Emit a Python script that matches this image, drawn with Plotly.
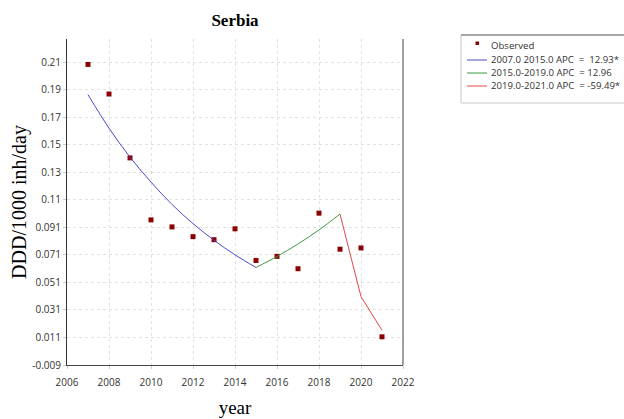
import plotly.graph_objects as go

# Observed data
years = [2007, 2008, 2009, 2010, 2011, 2012, 2013, 2014, 2015, 2016, 2017, 2018, 2019, 2020, 2021]
observed = [0.2095, 0.188, 0.1416, 0.0965, 0.0914, 0.0843, 0.0821, 0.0900, 0.0670, 0.0700, 0.0610, 0.1014, 0.0752, 0.0761, 0.0115]

# Joinpoint fitted segments
seg1_years = [2007, 2008, 2009, 2010, 2011, 2012, 2013, 2014, 2015]
seg1_vals = [0.1875, 0.1632, 0.1421, 0.1240, 0.1077, 0.0938, 0.0817, 0.0711, 0.0619]
seg2_years = [2015, 2016, 2017, 2018, 2019]
seg2_vals = [0.0619, 0.0699, 0.0790, 0.0892, 0.1007]
seg3_years = [2019, 2020, 2021]
seg3_vals = [0.1007, 0.0407, 0.0162]

legend_labels = ["Observed",
                 "2007.0 2015.0 APC  =  12.93*",
                 "2015.0-2019.0 APC  = 12.96",
                 "2019.0-2021.0 APC  = -59.49*"]

y_tickvals = [-0.009, 0.011, 0.031, 0.051, 0.071, 0.091, 0.111, 0.131, 0.151, 0.171, 0.191, 0.211]
y_ticktext = ["-0.009", "0.011", "0.031", "0.051", "0.071", "0.091", "0.11", "0.13", "0.15", "0.17", "0.19", "0.21"]
x_tickvals = [2006, 2008, 2010, 2012, 2014, 2016, 2018, 2020, 2022]

colors = ["#8b0000", "#4a4ad0", "#3f9a3f", "#e04848"]

W, H = 624, 419
L, R, T, B = 67, 403, 39, 365  # plot area in pixels


def px(x):
    return (x - L) / (R - L)


def py(y):
    return (B - y) / (B - T)


fig = go.Figure()
fig.add_trace(go.Scatter(x=years, y=observed, mode="markers", name=legend_labels[0],
                         marker=dict(symbol="square", size=5, color=colors[0]), showlegend=False))
fig.add_trace(go.Scatter(x=seg1_years, y=seg1_vals, mode="lines", name=legend_labels[1],
                         line=dict(color=colors[1], width=1, shape="spline"), showlegend=False))
fig.add_trace(go.Scatter(x=seg2_years, y=seg2_vals, mode="lines", name=legend_labels[2],
                         line=dict(color=colors[2], width=1, shape="spline"), showlegend=False))
fig.add_trace(go.Scatter(x=seg3_years, y=seg3_vals, mode="lines", name=legend_labels[3],
                         line=dict(color=colors[3], width=1), showlegend=False))

fig.update_layout(
    width=W, height=H,
    margin=dict(l=L, r=W - R, t=T, b=H - B),
    paper_bgcolor="white", plot_bgcolor="white",
    title=dict(text="<b>Serbia</b>", x=(L + R) / 2 / W, xanchor="center",
               y=1 - 20 / H, yanchor="middle",
               font=dict(family="Liberation Serif", size=17, color="black")),
    showlegend=False,
    font=dict(family="Open Sans", size=10, color="#333"),
)
fig.update_xaxes(range=[2006, 2022], tickvals=x_tickvals, automargin=False,
                 showgrid=True, gridcolor="#e2e2e2", griddash="dot", gridwidth=1,
                 showline=True, linecolor="#444", linewidth=1, mirror=False,
                 ticks="outside", ticklen=3, tickcolor="#ccc", ticklabelstandoff=5,
                 tickfont=dict(family="Open Sans", size=10, color="#333"),
                 title=dict(text="year", font=dict(family="Liberation Serif", size=19, color="black"), standoff=12),
                 zeroline=False)
fig.update_yaxes(range=[-0.009, 0.228], tickvals=y_tickvals, ticktext=y_ticktext, automargin=False,
                 showgrid=True, gridcolor="#e2e2e2", griddash="dot", gridwidth=1,
                 showline=True, linecolor="#333", linewidth=1,
                 ticks="outside", ticklen=3, tickcolor="#ccc",
                 tickfont=dict(family="Open Sans", size=10, color="#333"),
                 title=dict(text="DDD/1000 inh/day", font=dict(family="Liberation Serif", size=20, color="black"), standoff=0),
                 zeroline=False)
# right border
fig.add_shape(type="line", xref="paper", yref="paper", x0=1, x1=1, y0=0, y1=1,
              line=dict(color="#a0a0a0", width=2))

# legend box (drawn manually to match compact row spacing)
fig.add_shape(type="rect", xref="paper", yref="paper",
              x0=px(461), x1=px(626), y0=py(103), y1=py(35),
              line=dict(color="#c8c8c8", width=1), fillcolor="white", layer="above")
fig.add_shape(type="line", xref="paper", yref="paper",
              x0=px(461), x1=px(626), y0=py(35), y1=py(35),
              line=dict(color="#a8a8a8", width=2), layer="above")
row_y = [46, 60, 73, 86]
# marker sample
fig.add_shape(type="rect", xref="paper", yref="paper",
              x0=px(475.5), x1=px(479), y0=py(45), y1=py(41.5),
              line=dict(color=colors[0], width=0), fillcolor=colors[0], layer="above")
for i in range(1, 4):
    fig.add_shape(type="line", xref="paper", yref="paper",
                  x0=px(467), x1=px(487), y0=py(row_y[i]), y1=py(row_y[i]),
                  line=dict(color=colors[i], width=1), layer="above")
for i in range(4):
    fig.add_annotation(xref="paper", yref="paper", x=px(490), y=py(row_y[i]),
                       text=legend_labels[i], showarrow=False, xanchor="left", yanchor="middle",
                       borderpad=0,
                       font=dict(family="Open Sans", size=9.6, color="#333"))

fig.write_html("out.html")
